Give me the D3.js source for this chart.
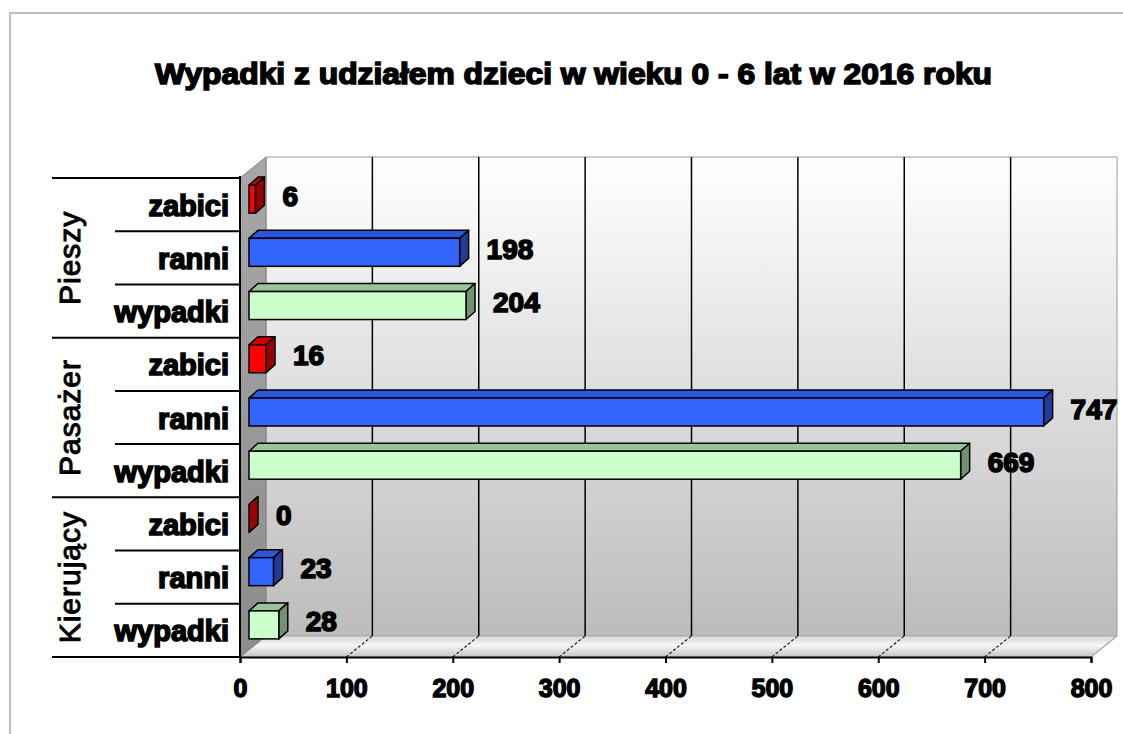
<!DOCTYPE html>
<html>
<head>
<meta charset="utf-8">
<script src="https://cdn.jsdelivr.net/npm/d3@7"></script>
<style>
  body { margin: 0; background: #fff; }
  text { font-family: "Liberation Sans", Arial, sans-serif; fill: #000; }
</style>
</head>
<body>
<script>
// data
var title = "Wypadki z udziałem dzieci w wieku 0 - 6 lat w 2016 roku";
var groups = ["Pieszy", "Pasażer", "Kierujący"];
var categories = ["zabici", "ranni", "wypadki"];
var pieszy = [6, 198, 204];
var pasazer = [16, 747, 669];
var kierujacy = [0, 23, 28];
var xTicks = [0, 100, 200, 300, 400, 500, 600, 700, 800];

var values = [pieszy, pasazer, kierujacy];
var rows = [];
groups.forEach(function(g, gi) {
  categories.forEach(function(c, ci) {
    rows.push({key: g + "|" + c, group: g, cat: c, ci: ci, value: values[gi][ci]});
  });
});

var W = 1123, H = 734;
var DX = 26, DY = 21;           // depth of the 3d box
var BDX = 9, BDY = 8;           // depth of each bar
var front = {left: 240, right: 1091, top: 178, bottom: 657};

var svg = d3.select("body").append("svg")
    .attr("width", W).attr("height", H);

var x = d3.scaleLinear().domain([0, 800]).range([front.left, front.right]);
var y = d3.scaleBand().domain(rows.map(function(d) { return d.key; }))
    .range([front.top, front.bottom]).paddingInner(0).paddingOuter(0);

var faceColors = [
  {front: "#ff0000", top: "#cc0000", side: "#990000"},
  {front: "#3366ff", top: "#2b56dd", side: "#1f3c99"},
  {front: "#ccffcc", top: "#99c499", side: "#6f946f"}
];

var defs = svg.append("defs");
var gWall = defs.append("linearGradient").attr("id", "wall").attr("x1", 0).attr("y1", 0).attr("x2", 0).attr("y2", 1);
gWall.append("stop").attr("offset", "0%").attr("stop-color", "#ffffff");
gWall.append("stop").attr("offset", "100%").attr("stop-color", "#bcbcbc");
var gSide = defs.append("linearGradient").attr("id", "side").attr("x1", 0).attr("y1", 0).attr("x2", 0).attr("y2", 1);
gSide.append("stop").attr("offset", "0%").attr("stop-color", "#a8a8a8");
gSide.append("stop").attr("offset", "100%").attr("stop-color", "#8c8c8c");
var gFloor = defs.append("linearGradient").attr("id", "floor").attr("x1", 0).attr("y1", 0).attr("x2", 0).attr("y2", 1);
gFloor.append("stop").attr("offset", "0%").attr("stop-color", "#d6d6d6");
gFloor.append("stop").attr("offset", "45%").attr("stop-color", "#f7f7f7");
gFloor.append("stop").attr("offset", "100%").attr("stop-color", "#c4c4c4");

// outer border
svg.append("path")
    .attr("d", "M10," + H + "V13H" + W)
    .attr("fill", "none").attr("stroke", "#c0c0c0").attr("stroke-width", 2);

// title
svg.append("text")
    .attr("x", 155).attr("y", 84)
    .attr("textLength", 837).attr("lengthAdjust", "spacingAndGlyphs")
    .style("font-size", "30px").style("font-weight", "bold")
    .style("stroke", "#000").style("stroke-width", 1.6)
    .text(title);

function pt(px, py) { return px + "," + py; }

// back wall
svg.append("polygon")
    .attr("points", [pt(x(0) + DX, front.top - DY), pt(x(800) + DX, front.top - DY),
                     pt(x(800) + DX, front.bottom - DY), pt(x(0) + DX, front.bottom - DY)].join(" "))
    .attr("fill", "url(#wall)").attr("stroke", "#9a9a9a").attr("stroke-width", 1);

// floor
svg.append("polygon")
    .attr("points", [pt(x(0), front.bottom), pt(x(0) + DX, front.bottom - DY),
                     pt(x(800) + DX, front.bottom - DY), pt(x(800), front.bottom)].join(" "))
    .attr("fill", "url(#floor)").attr("stroke", "#b0b0b0").attr("stroke-width", 1);

// side wall
svg.append("polygon")
    .attr("points", [pt(x(0), front.top), pt(x(0) + DX, front.top - DY),
                     pt(x(0) + DX, front.bottom - DY), pt(x(0), front.bottom)].join(" "))
    .attr("fill", "url(#side)").attr("stroke", "#808080").attr("stroke-width", 1);

// gridlines on wall and floor
var inner = xTicks.filter(function(t) { return t > 0 && t < 800; });
svg.append("g").selectAll("line").data(inner).enter().append("line")
    .attr("x1", function(d) { return x(d) + DX; }).attr("x2", function(d) { return x(d) + DX; })
    .attr("y1", front.top - DY).attr("y2", front.bottom - DY)
    .attr("stroke", "#000").attr("stroke-width", 1.5);
svg.append("g").selectAll("line").data(xTicks.filter(function(t) { return t > 0; })).enter().append("line")
    .attr("x1", function(d) { return x(d); }).attr("x2", function(d) { return x(d) + DX; })
    .attr("y1", front.bottom).attr("y2", front.bottom - DY)
    .attr("stroke", function(d) { return d === 800 ? "#b0b0b0" : "#222"; })
    .attr("stroke-width", 1.2)
    .attr("stroke-dasharray", function(d) { return d === 800 ? null : "3,2"; });

// x axis
var xAxis = d3.axisBottom(x).tickValues(xTicks).tickSize(6).tickFormat(d3.format("d"));
var ax = svg.append("g")
    .attr("transform", "translate(0," + front.bottom + ")")
    .call(xAxis);
ax.select(".domain").attr("stroke", "#000").attr("stroke-width", 2);
ax.selectAll(".tick line").attr("stroke", "#000").attr("stroke-width", 2);
ax.selectAll(".tick text")
    .attr("y", 22).attr("dy", "0.71em")
    .style("font-size", "25px").style("font-weight", "bold")
    .style("font-family", "'Liberation Sans', Arial, sans-serif")
    .style("stroke", "#000").style("stroke-width", 1.4);

// left axis line
svg.append("line")
    .attr("x1", front.left).attr("x2", front.left)
    .attr("y1", front.top - 2).attr("y2", front.bottom)
    .attr("stroke", "#000").attr("stroke-width", 2);

// category table lines
var bounds = d3.range(rows.length + 1);
svg.append("g").selectAll("line").data(bounds).enter().append("line")
    .attr("x1", function(i) { return i % 3 === 0 ? 52 : 115; })
    .attr("x2", front.left)
    .attr("y1", function(i) { return front.top + i * y.bandwidth(); })
    .attr("y2", function(i) { return front.top + i * y.bandwidth(); })
    .attr("stroke", "#000").attr("stroke-width", 2);

// category labels
svg.append("g").selectAll("text").data(rows).enter().append("text")
    .attr("x", 229)
    .attr("y", function(d) { return y(d.key) + y.bandwidth() / 2 + 11; })
    .attr("text-anchor", "end")
    .style("font-size", "29px").style("font-weight", "bold")
    .style("stroke", "#000").style("stroke-width", 1.6)
    .text(function(d) { return d.cat; });

// group labels
svg.append("g").selectAll("text").data(groups).enter().append("text")
    .attr("transform", function(g) {
      var first = y(g + "|" + categories[0]);
      var last = y(g + "|" + categories[categories.length - 1]) + y.bandwidth();
      return "translate(80," + ((first + last) / 2) + ") rotate(-90)";
    })
    .attr("text-anchor", "middle")
    .attr("letter-spacing", "1px")
    .style("font-size", "30px")
    .style("stroke", "#000").style("stroke-width", 1)
    .text(function(g) { return g; });

// bars
var bars = svg.append("g").selectAll("g").data(rows).enter().append("g");
var barH = 28;
function barBox(d) {
  var x0 = x(0) + BDX, x1 = x(d.value) + BDX;
  var yc = y(d.key) + y.bandwidth() / 2 - 5.5;
  return {x0: x0, x1: x1, y0: yc - barH / 2, y1: yc + barH / 2};
}
bars.append("polygon")
    .attr("points", function(d) {
      var b = barBox(d);
      return [pt(b.x0, b.y0), pt(b.x1, b.y0), pt(b.x1 + BDX, b.y0 - BDY), pt(b.x0 + BDX, b.y0 - BDY)].join(" ");
    })
    .attr("fill", function(d) { return faceColors[d.ci].top; })
    .attr("stroke", "#000").attr("stroke-width", 1.5).attr("stroke-linejoin", "round");
bars.append("polygon")
    .attr("points", function(d) {
      var b = barBox(d);
      return [pt(b.x1, b.y0), pt(b.x1 + BDX, b.y0 - BDY), pt(b.x1 + BDX, b.y1 - BDY), pt(b.x1, b.y1)].join(" ");
    })
    .attr("fill", function(d) { return faceColors[d.ci].side; })
    .attr("stroke", "#000").attr("stroke-width", 1.5).attr("stroke-linejoin", "round");
bars.filter(function(d) { return d.value > 0; }).append("rect")
    .attr("x", function(d) { return barBox(d).x0; })
    .attr("y", function(d) { return barBox(d).y0; })
    .attr("width", function(d) { var b = barBox(d); return b.x1 - b.x0; })
    .attr("height", barH)
    .attr("fill", function(d) { return faceColors[d.ci].front; })
    .attr("stroke", "#000").attr("stroke-width", 1.5);

// value labels
svg.append("g").selectAll("text").data(rows).enter().append("text")
    .attr("x", function(d) { return x(d.value) + 36; })
    .attr("y", function(d) { return y(d.key) + y.bandwidth() / 2 + 1; })
    .style("font-size", "28px").style("font-weight", "bold")
    .style("stroke", "#000").style("stroke-width", 1.6)
    .text(function(d) { return d.value; });
</script>
</body>
</html>
